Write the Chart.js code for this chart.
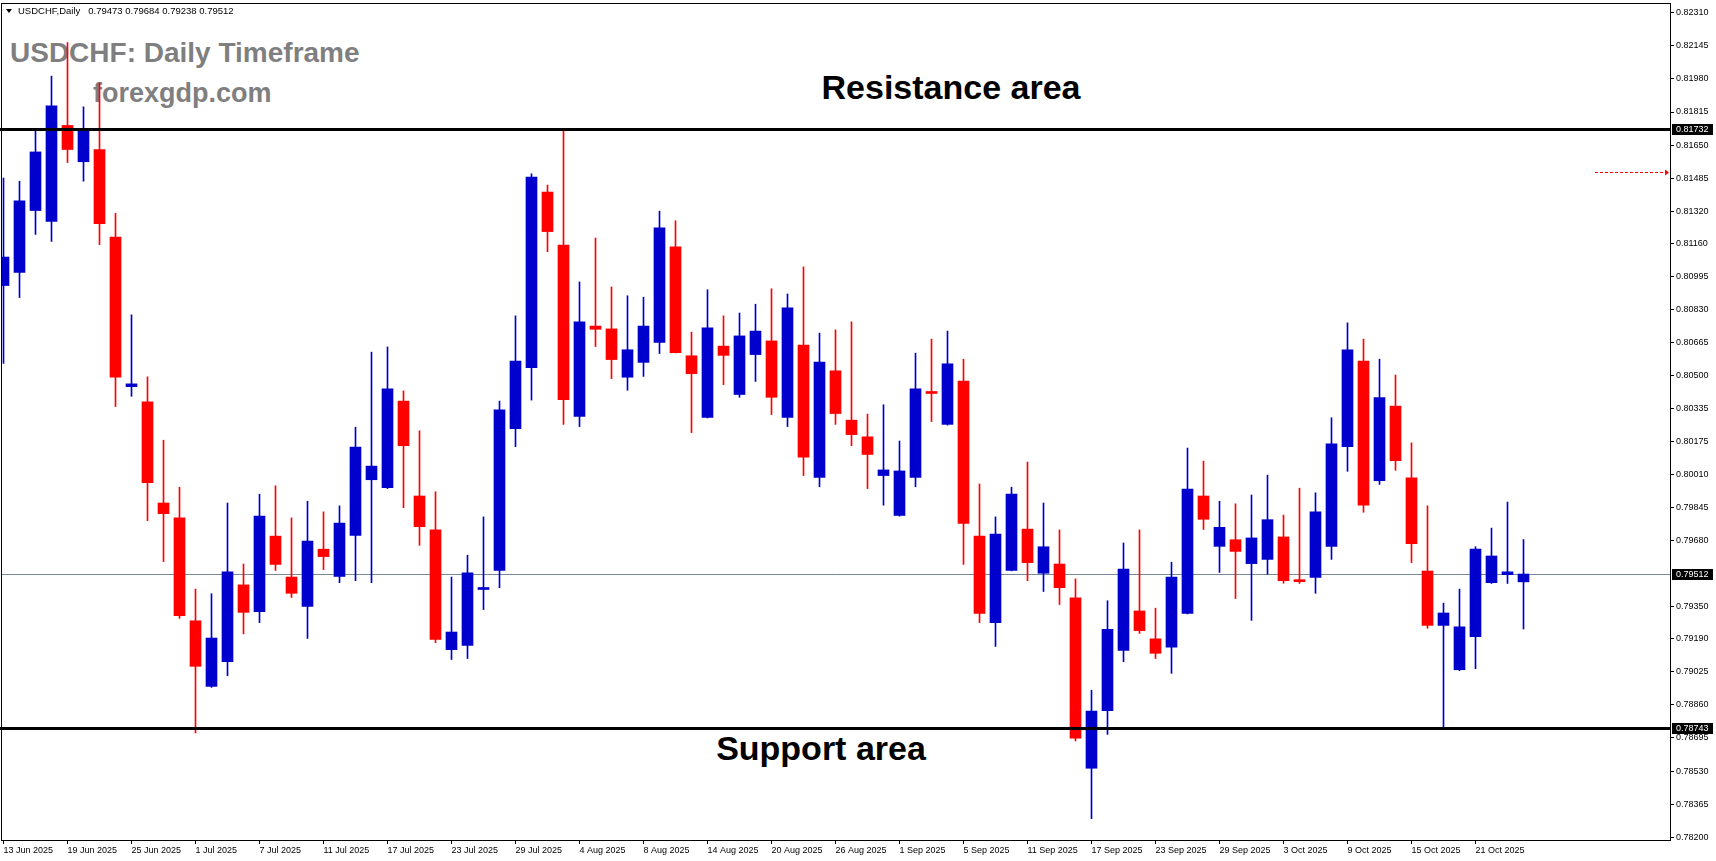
<!DOCTYPE html>
<html>
<head>
<meta charset="utf-8">
<title>USDCHF Daily</title>
<script src="https://cdn.jsdelivr.net/npm/chart.js@4.4.1/dist/chart.umd.min.js"></script>
<style>
  html, body { margin: 0; padding: 0; background: #fff; }
  #wrap { position: relative; width: 1716px; height: 861px; overflow: hidden; background: #fff; }
  #chart { position: absolute; left: 0; top: 0; z-index: 2; }
  .txt { position: absolute; white-space: nowrap; z-index: 1; font-family: "Liberation Sans", Arial, sans-serif; }
  #info { left: 18px; top: 5px; font-size: 9.5px; line-height: 11px; color: #000; z-index: 3; }
  #info span { margin-left: 8px; }
  #tri { position: absolute; left: 6px; top: 9px; width: 0; height: 0; z-index: 3;
         border-left: 3px solid transparent; border-right: 3px solid transparent; border-top: 4px solid #000; }
  #title { left: 10px; top: 39px; font-size: 28px; line-height: 28px; font-weight: bold; color: #7f7f7f; }
  #site { left: 93px; top: 80px; font-size: 27px; line-height: 27px; font-weight: bold; color: #7f7f7f; }
  .area { font-size: 34px; line-height: 34px; font-weight: bold; color: #000; transform: translateX(-50%); }
  #res { left: 951px; top: 70px; }
  #sup { left: 821px; top: 731px; }
</style>
</head>
<body>
<div id="wrap">
  <div id="tri"></div>
  <div class="txt" id="info">USDCHF,Daily<span>0.79473 0.79684 0.79238 0.79512</span></div>
  <div class="txt" id="title">USDCHF: Daily Timeframe</div>
  <div class="txt" id="site">forexgdp.com</div>
  <div class="txt area" id="res">Resistance area</div>
  <div class="txt area" id="sup">Support area</div>
  <canvas id="chart" width="1716" height="861"></canvas>
</div>
<script>
// daily candles, 13 Jun 2025 .. 24 Oct 2025 (one entry per trading day)
const opens = [
  0.80950, 0.81015, 0.81324, 0.81270, 0.81748, 0.81567, 0.81628, 0.81191, 0.80446, 0.80370,
  0.79866, 0.79792, 0.79279, 0.78952, 0.79075, 0.79458, 0.79325, 0.79701, 0.79497, 0.79351,
  0.79636, 0.79500, 0.79704, 0.79982, 0.79943, 0.80374, 0.79901, 0.79732, 0.79135, 0.79156,
  0.79435, 0.79530, 0.80237, 0.80541, 0.81416, 0.81152, 0.80298, 0.80748, 0.80734, 0.80493,
  0.80567, 0.80667, 0.81143, 0.80600, 0.80293, 0.80648, 0.80407, 0.80606, 0.80674, 0.80293,
  0.80653, 0.79994, 0.80525, 0.80279, 0.80196, 0.80003, 0.79804, 0.79994, 0.80416, 0.80258,
  0.80474, 0.79701, 0.79270, 0.79530, 0.79736, 0.79516, 0.79562, 0.79393, 0.78544, 0.78831,
  0.79131, 0.79328, 0.79189, 0.79147, 0.79316, 0.79901, 0.79650, 0.79683, 0.79564, 0.79585,
  0.79697, 0.79483, 0.79495, 0.79650, 0.80147, 0.80574, 0.79978, 0.80349, 0.79991, 0.79527,
  0.79256, 0.79035, 0.79200, 0.79469, 0.79509, 0.79473
];
const highs = [
  0.81486, 0.81470, 0.81720, 0.81994, 0.82161, 0.81841, 0.81959, 0.81310, 0.80804, 0.80495,
  0.80179, 0.79945, 0.79437, 0.79414, 0.79866, 0.79562, 0.79910, 0.79952, 0.79792, 0.79875,
  0.79822, 0.79852, 0.80244, 0.80618, 0.80644, 0.80425, 0.80226, 0.79922, 0.79497, 0.79606,
  0.79797, 0.80374, 0.80799, 0.81507, 0.81451, 0.81720, 0.80968, 0.81187, 0.80943, 0.80899,
  0.80892, 0.81321, 0.81273, 0.80718, 0.80929, 0.80799, 0.80813, 0.80857, 0.80934, 0.80908,
  0.81043, 0.80713, 0.80729, 0.80769, 0.80309, 0.80356, 0.80175, 0.80613, 0.80683, 0.80723,
  0.80583, 0.79961, 0.79797, 0.79945, 0.80070, 0.79866, 0.79732, 0.79488, 0.78933, 0.79379,
  0.79667, 0.79732, 0.79342, 0.79571, 0.80140, 0.80075, 0.79875, 0.79862, 0.79906, 0.80005,
  0.79806, 0.79940, 0.79917, 0.80291, 0.80764, 0.80683, 0.80583, 0.80504, 0.80166, 0.79852,
  0.79367, 0.79437, 0.79648, 0.79741, 0.79871, 0.79684
];
const lows = [
  0.80562, 0.80890, 0.81205, 0.81170, 0.81563, 0.81470, 0.81154, 0.80347, 0.80398, 0.79778,
  0.79574, 0.79291, 0.78720, 0.78947, 0.79005, 0.79214, 0.79270, 0.79530, 0.79395, 0.79191,
  0.79534, 0.79469, 0.79479, 0.79469, 0.79938, 0.79843, 0.79655, 0.79170, 0.79086, 0.79091,
  0.79335, 0.79444, 0.80147, 0.80379, 0.81119, 0.80258, 0.80247, 0.80646, 0.80486, 0.80428,
  0.80497, 0.80611, 0.80614, 0.80217, 0.80290, 0.80456, 0.80393, 0.80472, 0.80307, 0.80247,
  0.80003, 0.79947, 0.80258, 0.80152, 0.79938, 0.79855, 0.79800, 0.79947, 0.80272, 0.80254,
  0.79560, 0.79270, 0.79151, 0.79528, 0.79479, 0.79425, 0.79360, 0.78680, 0.78293, 0.78713,
  0.79075, 0.79216, 0.79091, 0.79017, 0.79313, 0.79734, 0.79520, 0.79390, 0.79281, 0.79511,
  0.79466, 0.79465, 0.79416, 0.79585, 0.80024, 0.79820, 0.79959, 0.80029, 0.79569, 0.79242,
  0.78740, 0.79030, 0.79040, 0.79465, 0.79465, 0.79238
];
const closes = [
  0.81092, 0.81372, 0.81616, 0.81846, 0.81628, 0.81732, 0.81259, 0.80493, 0.80460, 0.79968,
  0.79813, 0.79305, 0.79052, 0.79193, 0.79523, 0.79321, 0.79801, 0.79560, 0.79416, 0.79676,
  0.79599, 0.79766, 0.80145, 0.80050, 0.80435, 0.80152, 0.79748, 0.79186, 0.79223, 0.79518,
  0.79444, 0.80330, 0.80574, 0.81491, 0.81219, 0.80381, 0.80769, 0.80732, 0.80581, 0.80630,
  0.80748, 0.81238, 0.80616, 0.80511, 0.80739, 0.80602, 0.80699, 0.80723, 0.80393, 0.80839,
  0.80094, 0.80569, 0.80312, 0.80207, 0.80108, 0.80031, 0.80026, 0.80435, 0.80412, 0.80560,
  0.79764, 0.79316, 0.79711, 0.79910, 0.79569, 0.79648, 0.79444, 0.78694, 0.78829, 0.79237,
  0.79537, 0.79230, 0.79117, 0.79497, 0.79936, 0.79785, 0.79745, 0.79625, 0.79692, 0.79783,
  0.79479, 0.79474, 0.79822, 0.80161, 0.80630, 0.79855, 0.80391, 0.80077, 0.79664, 0.79256,
  0.79318, 0.79249, 0.79636, 0.79602, 0.79523, 0.79512
];

// one date label every 4 bars
const tickLabels = [
  '13 Jun 2025', '19 Jun 2025', '25 Jun 2025', '1 Jul 2025', '7 Jul 2025', '11 Jul 2025',
  '17 Jul 2025', '23 Jul 2025', '29 Jul 2025', '4 Aug 2025', '8 Aug 2025', '14 Aug 2025',
  '20 Aug 2025', '26 Aug 2025', '1 Sep 2025', '5 Sep 2025', '11 Sep 2025', '17 Sep 2025',
  '23 Sep 2025', '29 Sep 2025', '3 Oct 2025', '9 Oct 2025', '15 Oct 2025', '21 Oct 2025'
];
const LABEL_STEP = 4;

const priceTicks = [
  0.82310, 0.82145, 0.81980, 0.81815, 0.81650, 0.81485, 0.81320, 0.81160, 0.80995,
  0.80830, 0.80665, 0.80500, 0.80335, 0.80175, 0.80010, 0.79845, 0.79680, 0.79350,
  0.79190, 0.79025, 0.78860, 0.78695, 0.78530, 0.78365, 0.78200
];

const RESISTANCE = 0.81732;
const SUPPORT = 0.78743;
const LAST_PRICE = 0.79512;
const ASK_MARK = 0.81518;

const BULL = '#0000cd';
const BEAR = '#ff0000';
const AXIS_FONT = { family: '"Liberation Sans", Arial, sans-serif', size: 9 };

const candleColors = closes.map((c, i) => (c >= opens[i] ? BULL : BEAR));
const bodyData = opens.map((o, i) => ({ x: i, y: [o, closes[i]] }));
const wickData = lows.map((l, i) => ({ x: i, y: [l, highs[i]] }));

// horizontal lines, axis price boxes, frame
const overlay = {
  id: 'overlay',
  beforeDatasetsDraw(chart) {
    const { ctx, chartArea: a, scales: { y } } = chart;
    const py = Math.round(y.getPixelForValue(LAST_PRICE)) + 0.5;
    ctx.save();
    ctx.strokeStyle = '#778899';
    ctx.lineWidth = 1;
    ctx.beginPath();
    ctx.moveTo(a.left, py);
    ctx.lineTo(a.right, py);
    ctx.stroke();
    ctx.restore();
  },
  afterDatasetsDraw(chart) {
    const { ctx, chartArea: a, scales: { y } } = chart;
    ctx.save();
    ctx.strokeStyle = '#000';
    ctx.lineWidth = 3;
    [RESISTANCE, SUPPORT].forEach(v => {
      const py = Math.round(y.getPixelForValue(v)) + 0.5;
      ctx.beginPath();
      ctx.moveTo(a.left - 1, py);
      ctx.lineTo(a.right, py);
      ctx.stroke();
    });

    // small red dashed marker near the right edge
    const ay = Math.round(y.getPixelForValue(ASK_MARK)) + 0.5;
    ctx.strokeStyle = '#ff0000';
    ctx.lineWidth = 1;
    ctx.setLineDash([3, 2]);
    ctx.beginPath();
    ctx.moveTo(a.right - 75, ay);
    ctx.lineTo(a.right - 4, ay);
    ctx.stroke();
    ctx.setLineDash([]);
    ctx.fillStyle = '#ff0000';
    ctx.beginPath();
    ctx.moveTo(a.right - 5, ay - 3);
    ctx.lineTo(a.right - 1, ay);
    ctx.lineTo(a.right - 5, ay + 3);
    ctx.closePath();
    ctx.fill();

    ctx.strokeStyle = '#000';
    ctx.lineWidth = 1;
    ctx.strokeRect(a.left + 0.5, a.top + 0.5, a.right - a.left, a.bottom - a.top);
    ctx.restore();
  },
  afterDraw(chart) {
    const { ctx, chartArea: a, scales: { y } } = chart;
    ctx.save();
    ctx.font = '9px "Liberation Sans", Arial, sans-serif';
    ctx.textBaseline = 'middle';
    ctx.textAlign = 'left';
    [RESISTANCE, LAST_PRICE, SUPPORT].forEach(v => {
      const py = Math.round(y.getPixelForValue(v));
      ctx.fillStyle = '#000';
      ctx.fillRect(a.right + 2, py - 5, 41, 11);
      ctx.fillStyle = '#fff';
      ctx.fillText(v.toFixed(5), a.right + 6, py + 0.5);
    });
    ctx.restore();
  }
};

new Chart(document.getElementById('chart'), {
  type: 'bar',
  data: {
    datasets: [
      {
        label: 'wicks',
        data: wickData,
        backgroundColor: candleColors,
        barThickness: 1,
        grouped: false,
        borderWidth: 0,
        order: 2
      },
      {
        label: 'bodies',
        data: bodyData,
        backgroundColor: candleColors,
        barThickness: 11,
        minBarLength: 2,
        grouped: false,
        borderWidth: 0,
        order: 1
      }
    ]
  },
  options: {
    responsive: false,
    animation: false,
    events: [],
    layout: { padding: { left: 1, top: 3, right: 0, bottom: 0 } },
    plugins: {
      legend: { display: false },
      tooltip: { enabled: false }
    },
    scales: {
      x: {
        type: 'linear',
        offset: false,
        min: -0.15625,
        max: 104.15625,
        afterBuildTicks: s => { s.ticks = tickLabels.map((_, j) => ({ value: j * LABEL_STEP })); },
        afterFit: s => { s.height = 21; s.paddingLeft = 0; s.paddingRight = 0; },
        grid: { offset: false, drawOnChartArea: false, drawTicks: true, tickLength: 4, color: '#000' },
        border: { display: true, color: '#000', width: 1 },
        ticks: {
          align: 'start',
          autoSkip: false,
          maxRotation: 0,
          padding: 1,
          color: '#000',
          font: AXIS_FONT,
          callback: v => tickLabels[Math.round(v / LABEL_STEP)]
        }
      },
      y: {
        type: 'linear',
        position: 'right',
        beginAtZero: false,
        min: 0.781864,
        max: 0.823583,
        afterBuildTicks: s => { s.ticks = priceTicks.map(v => ({ value: v })); },
        afterFit: s => { s.width = 46; s.paddingTop = 0; s.paddingBottom = 0; },
        grid: { drawOnChartArea: false, drawTicks: true, tickLength: 4, color: '#000' },
        border: { display: true, color: '#000', width: 1 },
        ticks: {
          autoSkip: false,
          padding: 2,
          color: '#000',
          font: AXIS_FONT,
          callback: v => v.toFixed(5)
        }
      }
    }
  },
  plugins: [overlay]
});
</script>
</body>
</html>
